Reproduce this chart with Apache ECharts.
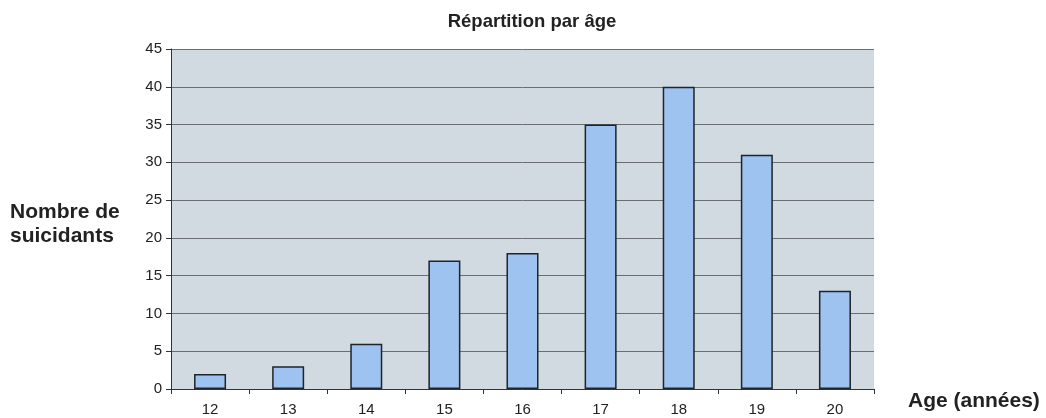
<!DOCTYPE html>
<html>
<head>
<meta charset="utf-8">
<script src="https://cdn.jsdelivr.net/npm/echarts@6/dist/echarts.min.js"></script>
<style>
html,body{margin:0;padding:0;background:#fff;}
#chart{width:1046px;height:418px;}
</style>
</head>
<body>
<div id="chart"></div>
<script>
const categories = ['12','13','14','15','16','17','18','19','20'];
const values = [2, 3, 6, 17, 18, 35, 40, 31, 13];
const yTicks = [0, 5, 10, 15, 20, 25, 30, 35, 40, 45];
const titleText = 'Répartition par âge';
const yName = 'Nombre de\nsuicidants';
const xName = 'Age (années)';

const chart = echarts.init(document.getElementById('chart'));
const font = 'Liberation Sans, Arial, sans-serif';
chart.setOption({
  animation: false,
  textStyle: { fontFamily: font },
  title: {
    text: titleText,
    left: 527, top: 7,
    textAlign: 'center',
    textStyle: { fontSize: 18.5, fontWeight: 'bold', color: '#222', fontFamily: font }
  },
  graphic: [{
    type: 'text', left: 10, top: 200,
    style: { text: yName, font: 'bold 21px ' + font, fill: '#222', lineHeight: 24 }
  }],
  grid: { left: 171, right: 172, top: 49, bottom: 29, show: true,
          backgroundColor: '#d1d9e1', borderWidth: 0 },
  xAxis: {
    type: 'category', data: categories,
    name: xName, nameLocation: 'end', nameGap: 34,
    nameTextStyle: { fontSize: 21, fontWeight: 'bold', color: '#222', verticalAlign: 'top', lineHeight: 24, fontFamily: font },
    axisLine: { lineStyle: { color: '#333', width: 1 } },
    axisTick: { show: true, alignWithLabel: false, length: 5, lineStyle: { color: '#333' } },
    axisLabel: { fontSize: 15, color: '#222', margin: 13, fontFamily: font }
  },
  yAxis: {
    type: 'value', min: yTicks[0], max: yTicks[yTicks.length-1], interval: 5,
    axisLine: { show: true, lineStyle: { color: '#333', width: 1 } },
    axisTick: { show: true, length: 5, lineStyle: { color: '#333' } },
    axisLabel: { fontSize: 15, color: '#222', margin: 9, fontFamily: font },
    splitLine: { show: true, lineStyle: { color: '#6a6e72', width: 1 } }
  },
  series: [{
    type: 'bar', data: values, barWidth: 32,
    itemStyle: { color: '#9ec3f0', borderColor: '#1e2428', borderWidth: 1.5 }
  }]
});
</script>
</body>
</html>
